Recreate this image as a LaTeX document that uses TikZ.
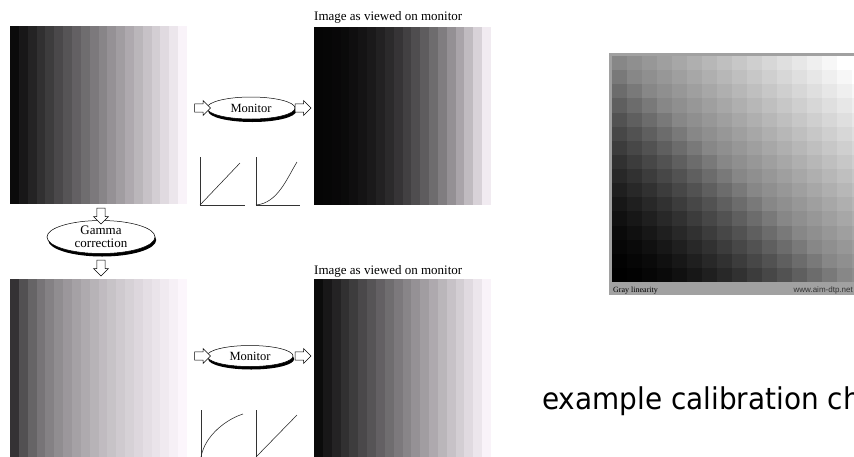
\documentclass[tikz,border=0pt]{standalone}
\usepackage{graphicx}
\usepackage{fontspec}
\setmainfont{Liberation Serif}
\newfontfamily\bigsans{DejaVu Sans}
\newfontfamily\smallsans{Liberation Sans}
\usetikzlibrary{shapes.geometric,shapes.arrows,shadows,calc}

\tikzset{
  lens/.style={ellipse, draw, fill=white, line width=0.5pt, inner sep=0pt,
    font=\fontsize{12.5}{11.5}\selectfont, align=center,
    general shadow={fill=black, shadow yshift=-3pt, shadow xshift=1.2pt}},
  hollowarrow/.style={single arrow, draw, fill=white, line width=0.5pt,
    inner xsep=0pt, inner ysep=3.8pt, minimum height=16pt,
    single arrow head extend=3.4pt},
  viewlabel/.style={anchor=base west, inner sep=0pt, font=\fontsize{13}{13}\selectfont},
  axisline/.style={line width=0.55pt, draw=black!80},
  curveline/.style={line width=0.55pt, draw=black!85},
}

% banded horizontal ramp: #1,#2 = top-left corner, #3 = exponent
\newcommand\rampband[3]{%
  \foreach \i in {0,...,19}{%
    \pgfmathsetmacro\tt{(\i+0.5)/20}%
    \pgfmathsetmacro\vv{min(1,0.02+0.98*pow(\tt,#3))}%
    \pgfmathsetmacro\gg{\vv*0.975}%
    \definecolor{bandcol}{rgb}{\vv,\gg,\vv}%
    \fill[bandcol] ({#1+\i*8.85},#2) rectangle ({#1+(\i+1)*8.85+0.3},{#2+178});
  }%
}

\begin{document}
\begin{tikzpicture}[x=1pt,y=-1pt]
\clip (0,0) rectangle (854,456);
\fill[white] (0,0) rectangle (854,456);

% ---- grey ramps ----
\rampband{10}{26}{1}
\rampband{314}{27}{2.2}
\rampband{10}{279}{0.4545}
\rampband{314}{279}{1}
\coordinate (rampA) at (98,115);
\coordinate (rampB) at (402,115);
\coordinate (rampC) at (98,368);
\coordinate (rampD) at (402,368);

\node[viewlabel] (labA) at (314,20) {Image as viewed on monitor};
\node[viewlabel] (labB) at (314,274) {Image as viewed on monitor};

% ---- monitor stages ----
\node[lens, minimum width=88pt, minimum height=22pt] (mon1) at (251,108) {Monitor};
\node[lens, minimum width=86pt, minimum height=21pt] (mon2) at (250,356) {Monitor};
\node[hollowarrow] (a1) at (200.5,108) {};
\node[hollowarrow] (a2) at (301,108) {};
\node[hollowarrow] (a3) at (200.5,356) {};
\node[hollowarrow] (a4) at (301,356) {};

% ---- gamma correction stage ----
\node[lens, minimum width=108pt, minimum height=33pt, font=\fontsize{13}{12.5}\selectfont] (gamma) at (101,237) {Gamma\\correction};
\node[hollowarrow, rotate=-90] (a5) at (101,214) {};
\node[hollowarrow, rotate=-90] (a6) at (101,266) {};

% ---- response curves ----
\coordinate (g1) at (200,205);
\coordinate (g2) at (256,205);
\coordinate (g3) at (201,457);
\coordinate (g4) at (256,457);
\draw[axisline] ($(g1)+(0,-48)$) -- (g1) -- ++(45,0);
\draw[curveline] (g1) -- ++(40,-42);
\draw[axisline] ($(g2)+(0,-48)$) -- (g2) -- ++(44,0);
\draw[curveline] (g2) .. controls ++(22,-2) and ++(-10,16) .. ++(41,-43);
\draw[axisline] ($(g3)+(0,-47)$) -- (g3) -- ++(44,0);
\draw[curveline] (g3) .. controls ++(4,-22) and ++(-16,5) .. ++(42,-43);
\draw[axisline] ($(g4)+(0,-47)$) -- (g4) -- ++(44,0);
\draw[curveline] (g4) -- ++(41,-42);

% ---- calibration chart ----
\fill[black!37] (609,53) rectangle (860,295);
\foreach \c in {0,...,16}{
  \foreach \r in {0,...,15}{
    \pgfmathsetmacro\tt{max(0.0001,min(1,(\c+15-\r)/30))}
    \pgfmathsetmacro\vv{\tt<=0.5 ? 0.53*pow(2*\tt,1.6) : min(1,0.53+0.47*(2*\tt-1))}
    \definecolor{cellcol}{gray}{\vv}
    \fill[cellcol] ({612+\c*15},{56+\r*14.125}) rectangle ({612+(\c+1)*15+0.2},{56+(\r+1)*14.125+0.2});
  }
}
\node[anchor=base west, inner sep=0pt, font=\fontsize{8}{8}\selectfont] (chartname) at (613,292) {Gray linearity};
\node[anchor=base east, inner sep=0pt, font=\smallsans\fontsize{8}{8}\selectfont, text=black!80] (charturl) at (853,292) {www.aim-dtp.net};

\node[anchor=base west, inner sep=0pt, font=\bigsans\fontsize{30}{30}\selectfont] (caption) at (542,409) {\scalebox{0.93}[1]{example calibration ch}};
\end{tikzpicture}
\end{document}
